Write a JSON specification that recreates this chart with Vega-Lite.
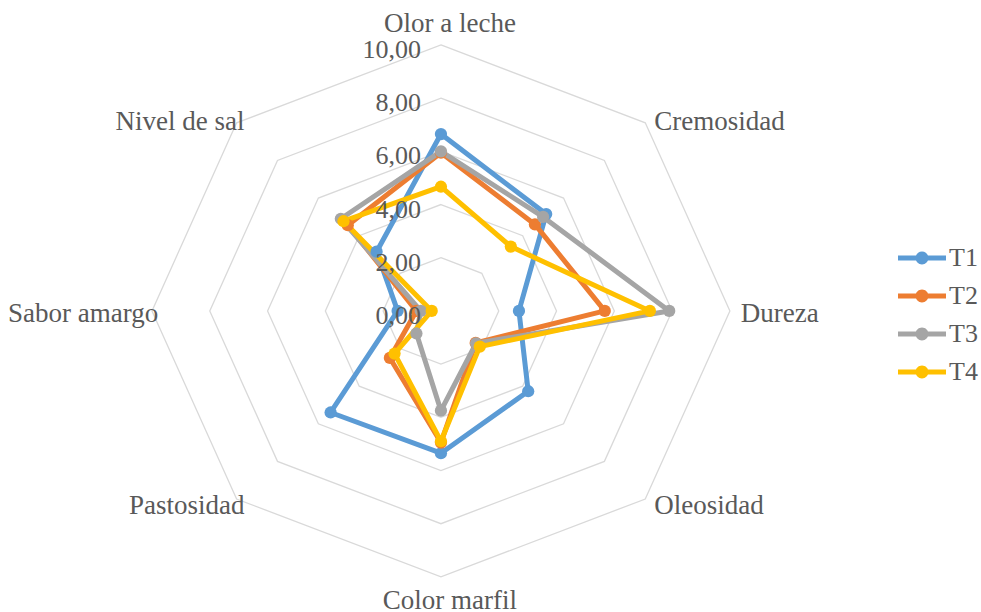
{
  "$schema": "https://vega.github.io/schema/vega-lite/v6.json",
  "width": 981,
  "height": 612,
  "autosize": {"type": "none"},
  "padding": 0,
  "config": {"view": {"stroke": null}, "font": "Liberation Serif"},
  "datasets": {
    "scores": [
      {"series": "T1", "k": 0, "attr": "Olor a leche", "value": 6.65},
      {"series": "T1", "k": 1, "attr": "Cremosidad", "value": 5.15},
      {"series": "T1", "k": 2, "attr": "Dureza", "value": 2.7},
      {"series": "T1", "k": 3, "attr": "Oleosidad", "value": 4.27},
      {"series": "T1", "k": 4, "attr": "Color marfil", "value": 5.35},
      {"series": "T1", "k": 5, "attr": "Pastosidad", "value": 5.4},
      {"series": "T1", "k": 6, "attr": "Sabor amargo", "value": 1.5},
      {"series": "T1", "k": 7, "attr": "Nivel de sal", "value": 3.15},
      {"series": "T2", "k": 0, "attr": "Olor a leche", "value": 5.95},
      {"series": "T2", "k": 1, "attr": "Cremosidad", "value": 4.6},
      {"series": "T2", "k": 2, "attr": "Dureza", "value": 5.67},
      {"series": "T2", "k": 3, "attr": "Oleosidad", "value": 1.7},
      {"series": "T2", "k": 4, "attr": "Color marfil", "value": 4.95},
      {"series": "T2", "k": 5, "attr": "Pastosidad", "value": 2.5},
      {"series": "T2", "k": 6, "attr": "Sabor amargo", "value": 0.85},
      {"series": "T2", "k": 7, "attr": "Nivel de sal", "value": 4.56},
      {"series": "T3", "k": 0, "attr": "Olor a leche", "value": 6.0},
      {"series": "T3", "k": 1, "attr": "Cremosidad", "value": 5.0},
      {"series": "T3", "k": 2, "attr": "Dureza", "value": 7.9},
      {"series": "T3", "k": 3, "attr": "Oleosidad", "value": 1.72},
      {"series": "T3", "k": 4, "attr": "Color marfil", "value": 3.75},
      {"series": "T3", "k": 5, "attr": "Pastosidad", "value": 1.2},
      {"series": "T3", "k": 6, "attr": "Sabor amargo", "value": 0.7},
      {"series": "T3", "k": 7, "attr": "Nivel de sal", "value": 4.9},
      {"series": "T4", "k": 0, "attr": "Olor a leche", "value": 4.67},
      {"series": "T4", "k": 1, "attr": "Cremosidad", "value": 3.42},
      {"series": "T4", "k": 2, "attr": "Dureza", "value": 7.23},
      {"series": "T4", "k": 3, "attr": "Oleosidad", "value": 1.9},
      {"series": "T4", "k": 4, "attr": "Color marfil", "value": 4.9},
      {"series": "T4", "k": 5, "attr": "Pastosidad", "value": 2.27},
      {"series": "T4", "k": 6, "attr": "Sabor amargo", "value": 0.32},
      {"series": "T4", "k": 7, "attr": "Nivel de sal", "value": 4.77}
    ],
    "grid": [
      {"level": 2, "k": [0, 1, 2, 3, 4, 5, 6, 7]},
      {"level": 4, "k": [0, 1, 2, 3, 4, 5, 6, 7]},
      {"level": 6, "k": [0, 1, 2, 3, 4, 5, 6, 7]},
      {"level": 8, "k": [0, 1, 2, 3, 4, 5, 6, 7]},
      {"level": 10, "k": [0, 1, 2, 3, 4, 5, 6, 7]}
    ],
    "ticks": [
      {"level": 0, "label": "0,00"},
      {"level": 2, "label": "2,00"},
      {"level": 4, "label": "4,00"},
      {"level": 6, "label": "6,00"},
      {"level": 8, "label": "8,00"},
      {"level": 10, "label": "10,00"}
    ],
    "attrs": [
      {"k": 0, "attr": "Olor a leche"},
      {"k": 1, "attr": "Cremosidad"},
      {"k": 2, "attr": "Dureza"},
      {"k": 3, "attr": "Oleosidad"},
      {"k": 4, "attr": "Color marfil"},
      {"k": 5, "attr": "Pastosidad"},
      {"k": 6, "attr": "Sabor amargo"},
      {"k": 7, "attr": "Nivel de sal"}
    ]
  },
  "encoding": {
    "x": {"field": "x", "type": "quantitative", "scale": {"domain": [-15.26, 18.69], "nice": false, "zero": false}, "axis": null},
    "y": {"field": "y", "type": "quantitative", "scale": {"domain": [-11.32, 11.69], "nice": false, "zero": false}, "axis": null}
  },
  "layer": [
    {
      "data": {"name": "grid"},
      "transform": [
        {"flatten": ["k"]},
        {"calculate": "datum.level * sin(datum.k * PI / 4)", "as": "x"},
        {"calculate": "datum.level * cos(datum.k * PI / 4)", "as": "y"}
      ],
      "mark": {"type": "line", "interpolate": "linear-closed", "color": "#D9D9D9", "strokeWidth": 1.3},
      "encoding": {
        "detail": {"field": "level", "type": "nominal"},
        "order": {"field": "k", "type": "quantitative"}
      }
    },
    {
      "data": {"name": "scores"},
      "transform": [
        {"calculate": "datum.value * sin(datum.k * PI / 4)", "as": "x"},
        {"calculate": "datum.value * cos(datum.k * PI / 4)", "as": "y"}
      ],
      "mark": {"type": "line", "interpolate": "linear-closed", "strokeWidth": 5, "strokeJoin": "round"},
      "encoding": {
        "color": {
          "field": "series", "type": "nominal",
          "scale": {"domain": ["T1", "T2", "T3", "T4"], "range": ["#5B9BD5", "#ED7D31", "#A5A5A5", "#FFC000"]},
          "legend": {
            "title": null, "orient": "none", "legendX": 909, "legendY": 245, "padding": 0,
            "symbolType": "M-2,-0.21L2,-0.21L2,0.21L-2,0.21Z M-0.54,0A0.54,0.54,0,1,1,0.54,0A0.54,0.54,0,1,1,-0.54,0Z",
            "symbolSize": 576, "symbolStrokeWidth": 0, "symbolOpacity": 1,
            "labelFontSize": 26, "labelFont": "Liberation Serif", "labelColor": "#595959",
            "rowPadding": 12, "labelOffset": 14,
            "encode": {"symbols": {"update": {"fill": {"scale": "color", "field": "value"}, "strokeWidth": {"value": 0}}}}
          }
        },
        "order": {"field": "k", "type": "quantitative"}
      }
    },
    {
      "data": {"name": "scores"},
      "transform": [
        {"calculate": "datum.value * sin(datum.k * PI / 4)", "as": "x"},
        {"calculate": "datum.value * cos(datum.k * PI / 4)", "as": "y"}
      ],
      "mark": {"type": "point", "filled": true, "size": 150, "opacity": 1},
      "encoding": {
        "color": {
          "field": "series", "type": "nominal",
          "scale": {"domain": ["T1", "T2", "T3", "T4"], "range": ["#5B9BD5", "#ED7D31", "#A5A5A5", "#FFC000"]},
          "legend": {
            "title": null, "orient": "none", "legendX": 909, "legendY": 245, "padding": 0,
            "symbolType": "M-2,-0.21L2,-0.21L2,0.21L-2,0.21Z M-0.54,0A0.54,0.54,0,1,1,0.54,0A0.54,0.54,0,1,1,-0.54,0Z",
            "symbolSize": 576, "symbolStrokeWidth": 0, "symbolOpacity": 1,
            "labelFontSize": 26, "labelFont": "Liberation Serif", "labelColor": "#595959",
            "rowPadding": 12, "labelOffset": 14,
            "encode": {"symbols": {"update": {"fill": {"scale": "color", "field": "value"}, "strokeWidth": {"value": 0}}}}
          }
        }
      }
    },
    {
      "data": {"name": "ticks"},
      "transform": [
        {"calculate": "0", "as": "x"},
        {"calculate": "datum.level", "as": "y"}
      ],
      "mark": {"type": "text", "align": "right", "baseline": "middle", "dx": -20, "dy": 5, "fontSize": 26, "color": "#595959"},
      "encoding": {"text": {"field": "label"}}
    },
    {
      "data": {"name": "attrs"},
      "transform": [
        {"filter": "datum.k == 0"},
        {"calculate": "10.2 * sin(datum.k * PI / 4)", "as": "x"},
        {"calculate": "10.2 * cos(datum.k * PI / 4)", "as": "y"}
      ],
      "mark": {"type": "text", "align": "center", "baseline": "middle", "dx": 9, "dy": -16, "fontSize": 27, "color": "#595959"},
      "encoding": {"text": {"field": "attr"}}
    },
    {
      "data": {"name": "attrs"},
      "transform": [
        {"filter": "datum.k == 4"},
        {"calculate": "10.2 * sin(datum.k * PI / 4)", "as": "x"},
        {"calculate": "10.2 * cos(datum.k * PI / 4)", "as": "y"}
      ],
      "mark": {"type": "text", "align": "center", "baseline": "middle", "dx": 9, "dy": 19, "fontSize": 27, "color": "#595959"},
      "encoding": {"text": {"field": "attr"}}
    },
    {
      "data": {"name": "attrs"},
      "transform": [
        {"filter": "datum.k >= 1 && datum.k <= 3"},
        {"calculate": "10.2 * sin(datum.k * PI / 4)", "as": "x"},
        {"calculate": "10.2 * cos(datum.k * PI / 4)", "as": "y"}
      ],
      "mark": {"type": "text", "align": "left", "baseline": "middle", "dx": 5, "dy": 3, "fontSize": 27, "color": "#595959"},
      "encoding": {"text": {"field": "attr"}}
    },
    {
      "data": {"name": "attrs"},
      "transform": [
        {"filter": "datum.k >= 5"},
        {"calculate": "10.2 * sin(datum.k * PI / 4)", "as": "x"},
        {"calculate": "10.2 * cos(datum.k * PI / 4)", "as": "y"}
      ],
      "mark": {"type": "text", "align": "right", "baseline": "middle", "dx": 12, "dy": 3, "fontSize": 27, "color": "#595959"},
      "encoding": {"text": {"field": "attr"}}
    }
  ]
}
